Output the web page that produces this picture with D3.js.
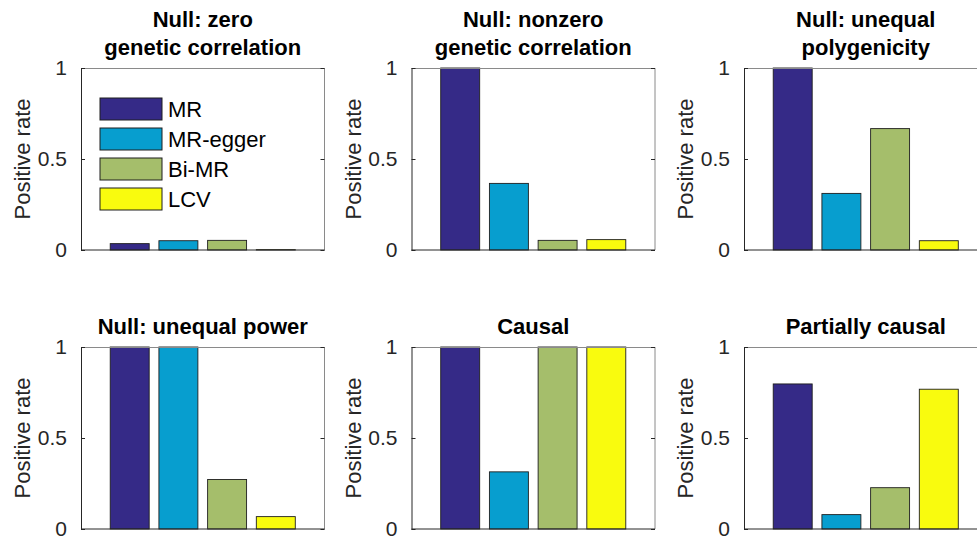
<!DOCTYPE html>
<html>
<head>
<meta charset="utf-8">
<script src="https://cdn.jsdelivr.net/npm/d3@7"></script>
<style>
  html, body { margin: 0; padding: 0; background: #fff; }
  svg { display: block; font-family: "Liberation Sans", Arial, Helvetica, sans-serif; }
</style>
</head>
<body>
<svg id="chart" width="977" height="537"></svg>
<script>
// ---- Data ----
const methods = ["MR", "MR-egger", "Bi-MR", "LCV"];
const panelTitles = [
  ["Null: zero", "genetic correlation"],
  ["Null: nonzero", "genetic correlation"],
  ["Null: unequal", "polygenicity"],
  ["Null: unequal power"],
  ["Causal"],
  ["Partially causal"]
];
const mrValues    = [0.035, 1.000, 1.000, 1.000, 1.000, 0.797];
const eggerValues = [0.051, 0.366, 0.311, 1.000, 0.314, 0.079];
const biMRValues  = [0.053, 0.053, 0.667, 0.272, 1.000, 0.227];
const lcvValues   = [0.002, 0.057, 0.051, 0.068, 1.000, 0.768];
const yTicks = [0, 0.5, 1];
const yTickLabels = ["0", "0.5", "1"];
const yLabel = "Positive rate";

// ---- Styles / layout ----
const colors = ["#352a87", "#079ecf", "#a5be6b", "#f9fb0e"];
const colLefts = [81, 411.5, 744];
const rowTops = [68, 347];
const pw = 243.5, ph = 182;

const svg = d3.select("#chart");
const series = [mrValues, eggerValues, biMRValues, lcvValues];

panelTitles.forEach((title, p) => {
  const col = p % 3, row = Math.floor(p / 3);
  const g = svg.append("g").attr("transform", `translate(${colLefts[col]},${rowTops[row]})`);
  const x = d3.scaleLinear().domain([0, 5]).range([0, pw]);
  const y = d3.scaleLinear().domain([0, 1]).range([ph, 0]);

  const vals = series.map(s => s[p]);

  // bars
  g.selectAll("rect.bar").data(vals).join("rect")
    .attr("class", "bar")
    .attr("x", (d, i) => x(i + 1 - 0.4))
    .attr("width", x(0.8) - x(0))
    .attr("y", d => y(d))
    .attr("height", d => y(0) - y(d))
    .attr("fill", (d, i) => colors[i])
    .attr("stroke", "#1e1e1e")
    .attr("stroke-width", 0.9);

  // box: top/right lighter
  g.append("line").attr("x1", 0).attr("x2", pw).attr("y1", 0.5).attr("y2", 0.5)
    .attr("stroke", "#8a8a8a").attr("stroke-width", 1);
  g.append("line").attr("x1", pw).attr("x2", pw).attr("y1", 0).attr("y2", ph)
    .attr("stroke", "#8a8a8a").attr("stroke-width", 1);

  // left axis using d3 axis
  const yAxis = d3.axisLeft(y).tickValues(yTicks)
    .tickFormat((d, i) => yTickLabels[i])
    .tickSizeInner(-4).tickSizeOuter(0).tickPadding(14);
  const ay = g.append("g").call(yAxis);
  ay.select(".domain").attr("stroke", "#262626");
  ay.selectAll(".tick line").attr("stroke", "#262626");
  ay.selectAll(".tick text").attr("font-size", 21).attr("fill", "#262626")
    .attr("font-family", "Liberation Sans, Arial, sans-serif");

  // right ticks
  const yAxisR = d3.axisRight(y).tickValues(yTicks).tickFormat("")
    .tickSizeInner(-4).tickSizeOuter(0);
  const ar = g.append("g").attr("transform", `translate(${pw},0)`).call(yAxisR);
  ar.select(".domain").remove();
  ar.selectAll(".tick line").attr("stroke", "#262626");

  // bottom axis line
  g.append("line").attr("x1", 0).attr("x2", pw).attr("y1", ph).attr("y2", ph)
    .attr("stroke", "#262626").attr("stroke-width", 1);

  // y label
  g.append("text")
    .attr("transform", `translate(-51,${ph / 2}) rotate(-90)`)
    .attr("text-anchor", "middle")
    .attr("font-size", 22).attr("fill", "#262626")
    .text(yLabel);

  // title
  const t = g.append("text").attr("text-anchor", "middle")
    .attr("font-weight", "bold").attr("font-size", 22).attr("fill", "#000");
  const n = title.length;
  title.forEach((line, li) => {
    t.append("tspan").attr("x", pw / 2)
      .attr("y", -13 - (n - 1 - li) * 28)
      .text(line);
  });

  // legend in first panel
  if (p === 0) {
    const lg = g.append("g").attr("transform", "translate(19,30)");
    methods.forEach((m, i) => {
      lg.append("rect").attr("x", 0).attr("y", i * 30).attr("width", 62).attr("height", 22)
        .attr("fill", colors[i]).attr("stroke", "#1e1e1e").attr("stroke-width", 1);
      lg.append("text").attr("x", 68).attr("y", i * 30 + 11).attr("dy", "0.36em")
        .attr("font-size", 22).attr("fill", "#000").text(m);
    });
  }
});
</script>
</body>
</html>
